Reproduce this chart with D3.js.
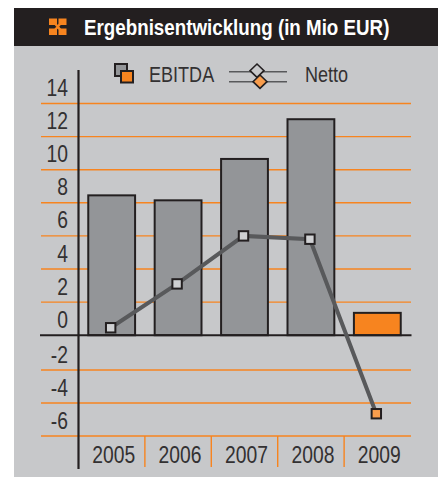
<!DOCTYPE html>
<html>
<head>
<meta charset="utf-8">
<script src="https://cdn.jsdelivr.net/npm/d3@7"></script>
<style>
  html, body { margin: 0; padding: 0; background: #fff; }
  svg { display: block; }
  text { font-family: "Liberation Sans", sans-serif; }
</style>
</head>
<body>
<svg width="440" height="477"></svg>
<script>
let years = ["2005", "2006", "2007", "2008", "2009"];
let ebitda = [8.45, 8.15, 10.65, 13.05, 1.35];
let netto = [0.45, 3.1, 6.0, 5.8, -4.65];
let yTicks = [14, 12, 10, 8, 6, 4, 2, 0, -2, -4, -6];
let title = "Ergebnisentwicklung (in Mio EUR)";

let orange = "#f7841f";
let dark = "#231f20";
let barGrey = "#939598";
let lineGrey = "#58595b";
let panel = "#c7c8ca";
let textCol = "#333132";
let squeeze = 0.84; // no condensed font here, so squash the normal one

var svg = d3.select("svg");

// the gap between 0 and -2 is a bit wider in the original
var y = d3.scaleLinear()
          .domain([-6, -2, 0, 14])
          .range([436, 370, 335.2, 103.5]);

var x = d3.scaleBand()
          .domain(years)
          .range([78.5, 410.5])
          .paddingInner(0.295)
          .paddingOuter(0.147);

var step = x.step();

function place(tx, ty) {
    return "translate(" + tx + "," + ty + ") scale(" + squeeze + ",1)";
}

// line markers sit about 1px left of the bar centres
function lineX(i) {
    return x(years[i]) + x.bandwidth() / 2 - 1;
}

// background + header
svg.append("rect").attr("x", 14).attr("y", 46).attr("width", 424).attr("height", 431).attr("fill", panel);
svg.append("rect").attr("x", 14).attr("y", 8).attr("width", 424).attr("height", 38).attr("fill", dark);

// little header icon
var icon = svg.append("g").attr("fill", orange);
[[49, 18.5], [58.5, 18.5], [49, 28.5], [58.5, 28.5]].forEach(function(p) {
    icon.append("rect").attr("x", p[0]).attr("y", p[1]).attr("width", 8).attr("height", 6.5);
});
icon.append("path").attr("d", "M55 23.5L60.5 30M60.5 23.5L55 30").attr("stroke", orange).attr("stroke-width", 2.4);

svg.append("text")
   .attr("transform", "translate(84,35) scale(0.873,1)")
   .attr("fill", "#fff")
   .attr("font-size", 21.5)
   .attr("font-weight", "bold")
   .text(title);

// grid lines
svg.append("g")
   .selectAll("line")
   .data(yTicks.filter(function(d) { return d !== 0; }))
   .join("line")
   .attr("x1", 41).attr("x2", 411)
   .attr("y1", function(d) { return y(d); })
   .attr("y2", function(d) { return y(d); })
   .attr("stroke", orange)
   .attr("stroke-width", 1.4);

// y labels sit above their grid line
svg.append("g")
   .selectAll("text")
   .data(yTicks)
   .join("text")
   .attr("transform", function(d) { return place(68, y(d) - 7.5); })
   .attr("text-anchor", "end")
   .attr("fill", textCol)
   .attr("font-size", 23)
   .text(function(d) { return d; });

// year separators
svg.append("g")
   .selectAll("line")
   .data(years.slice(1))
   .join("line")
   .attr("x1", function(d) { return x(d) - (step - x.bandwidth()) / 2; })
   .attr("x2", function(d) { return x(d) - (step - x.bandwidth()) / 2; })
   .attr("y1", y(-6)).attr("y2", 467)
   .attr("stroke", orange)
   .attr("stroke-width", 1.4);

svg.append("g")
   .selectAll("text")
   .data(years)
   .join("text")
   .attr("transform", function(d) { return place(x(d) + x.bandwidth() / 2 + 2, 463); })
   .attr("text-anchor", "middle")
   .attr("fill", textCol)
   .attr("font-size", 23)
   .text(function(d) { return d; });

// bars
svg.append("g")
   .selectAll("rect")
   .data(years)
   .join("rect")
   .attr("x", function(d) { return x(d); })
   .attr("width", x.bandwidth())
   .attr("y", function(d, i) { return y(ebitda[i]); })
   .attr("height", function(d, i) { return y(0) - y(ebitda[i]); })
   .attr("fill", function(d) { return d === "2009" ? orange : barGrey; })
   .attr("stroke", dark)
   .attr("stroke-width", 2);

// axes on top of bars
svg.append("line").attr("x1", 40).attr("x2", 411.5).attr("y1", y(0)).attr("y2", y(0)).attr("stroke", dark).attr("stroke-width", 2);
svg.append("line").attr("x1", 78.5).attr("x2", 78.5).attr("y1", 70).attr("y2", 469).attr("stroke", dark).attr("stroke-width", 2.2);

// netto line
let line = d3.line()
    .x(function(d, i) { return lineX(i); })
    .y(function(d) { return y(d); });

svg.append("path")
   .datum(netto)
   .attr("fill", "none")
   .attr("stroke", lineGrey)
   .attr("stroke-width", 4)
   .attr("d", line);

svg.append("g")
   .selectAll("rect")
   .data(netto)
   .join("rect")
   .attr("x", function(d, i) { return lineX(i) - 4.7; })
   .attr("y", function(d) { return y(d) - 4.7; })
   .attr("width", 9.4).attr("height", 9.4)
   .attr("fill", function(d) { return d < 0 ? "#f99d4c" : "#cfd0d2"; })
   .attr("stroke", dark)
   .attr("stroke-width", 2);

// legend
var lg = svg.append("g");
lg.append("rect").attr("x", 115).attr("y", 64).attr("width", 12).attr("height", 12).attr("fill", barGrey).attr("stroke", dark).attr("stroke-width", 2);
lg.append("rect").attr("x", 121).attr("y", 71).attr("width", 12).attr("height", 11.5).attr("fill", orange).attr("stroke", dark).attr("stroke-width", 2);
lg.append("text").attr("transform", place(149, 82)).attr("fill", textCol).attr("font-size", 21.5).text("EBITDA");
[71.7, 81.7].forEach(function(ly) {
    lg.append("line").attr("x1", 229).attr("x2", 287).attr("y1", ly).attr("y2", ly).attr("stroke", lineGrey).attr("stroke-width", 1.6);
});
lg.append("path").attr("d", "M257 64L264 70.7L257 77.4L250 70.7Z").attr("fill", panel).attr("stroke", dark).attr("stroke-width", 1.6);
lg.append("path").attr("d", "M260 75L267 81.7L260 88.4L253 81.7Z").attr("fill", "#f99d4c").attr("stroke", dark).attr("stroke-width", 1.6);
lg.append("text").attr("transform", place(305, 82)).attr("fill", textCol).attr("font-size", 21.5).text("Netto");
</script>
</body>
</html>
